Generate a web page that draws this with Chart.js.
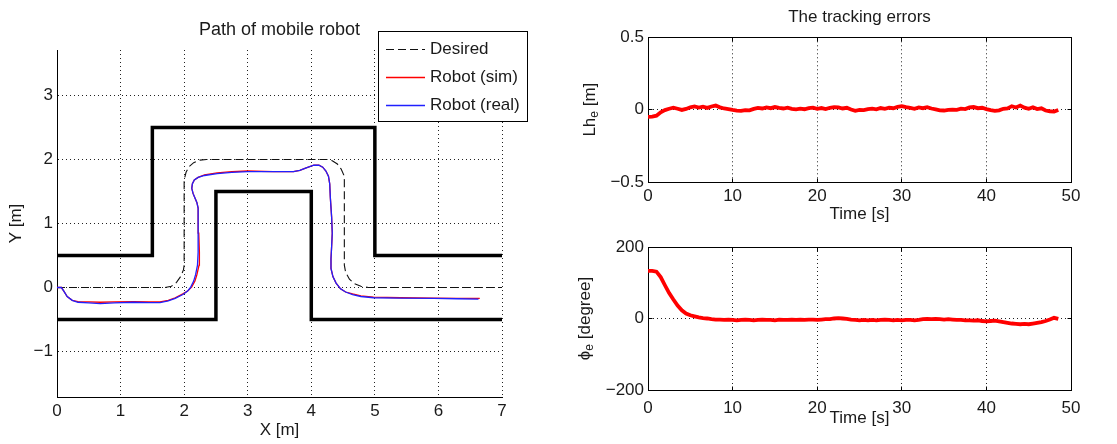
<!DOCTYPE html>
<html><head><meta charset="utf-8">
<script src="https://cdn.jsdelivr.net/npm/chart.js@4.4.0/dist/chart.umd.min.js"></script>
<style>
html,body{margin:0;padding:0;background:#fff;width:1117px;height:444px;overflow:hidden}
canvas{position:absolute;display:block}
#c1{left:0;top:0}
#c2{left:560px;top:0}
#c3{left:560px;top:230px}
</style></head><body>
<canvas id="c1" width="530" height="444"></canvas>
<canvas id="c2" width="557" height="230"></canvas>
<canvas id="c3" width="557" height="214"></canvas>
<script>
// ---------- data: path of mobile robot ----------
const pathTitle = 'Path of mobile robot';
const pathXTicks = [0, 1, 2, 3, 4, 5, 6, 7];
const pathYTicks = [-1, 0, 1, 2, 3];
const legendOrder = ['Desired', 'Robot (sim)', 'Robot (real)'];

const wallUpperX = [0, 1.5, 1.5, 5, 5, 7];
const wallUpperY = [0.5, 0.5, 2.5, 2.5, 0.5, 0.5];
const wallLowerX = [0, 2.5, 2.5, 4, 4, 7];
const wallLowerY = [-0.5, -0.5, 1.5, 1.5, -0.5, -0.5];

const desiredX = [0, 1.7, 1.8, 1.88, 1.95, 1.99, 2.0, 2.0, 2.03, 2.08, 2.15, 2.25, 2.35, 4.25, 4.33, 4.41, 4.47, 4.51, 4.52, 4.52, 4.54, 4.6, 4.68, 4.78, 4.9, 7];
const desiredY = [0, 0, 0.02, 0.08, 0.18, 0.28, 0.35, 1.68, 1.8, 1.89, 1.95, 1.99, 2.0, 2.0, 1.98, 1.93, 1.85, 1.76, 1.68, 0.35, 0.24, 0.13, 0.06, 0.02, 0, 0];

const realX = [0, 0.07, 0.11, 0.16, 0.24, 0.33, 0.5, 0.68, 0.9, 1.2, 1.45, 1.62, 1.75, 1.86, 1.98, 2.05, 2.1, 2.15, 2.18, 2.21, 2.22, 2.22, 2.22, 2.2, 2.17, 2.14, 2.12, 2.13, 2.16, 2.22, 2.32, 2.52, 2.75, 3.0, 3.4, 3.72, 3.82, 3.92, 4.04, 4.12, 4.18, 4.23, 4.27, 4.29, 4.3, 4.32, 4.33, 4.32, 4.31, 4.31, 4.34, 4.39, 4.46, 4.54, 4.65, 4.78, 4.98, 5.4, 5.93, 6.3, 6.63];
const realY = [0, 0, -0.06, -0.14, -0.2, -0.23, -0.24, -0.25, -0.24, -0.23, -0.235, -0.235, -0.21, -0.17, -0.11, -0.06, 0.0, 0.1, 0.2, 0.35, 0.55, 0.85, 1.24, 1.33, 1.4, 1.47, 1.55, 1.62, 1.68, 1.72, 1.75, 1.78, 1.8, 1.81, 1.81, 1.81, 1.83, 1.87, 1.91, 1.91, 1.88, 1.82, 1.74, 1.62, 1.4, 1.1, 0.85, 0.64, 0.45, 0.3, 0.17, 0.07, -0.02, -0.07, -0.11, -0.14, -0.16, -0.165, -0.17, -0.175, -0.18];

const simX = [0, 0.07, 0.11, 0.16, 0.24, 0.33, 0.5, 0.68, 0.9, 1.2, 1.45, 1.62, 1.75, 1.86, 1.98, 2.06, 2.12, 2.17, 2.2, 2.235, 2.24, 2.23, 2.22, 2.2, 2.17, 2.14, 2.12, 2.13, 2.16, 2.22, 2.32, 2.52, 2.75, 3.0, 3.4, 3.72, 3.82, 3.92, 4.04, 4.12, 4.18, 4.23, 4.27, 4.29, 4.3, 4.32, 4.33, 4.32, 4.31, 4.31, 4.34, 4.39, 4.46, 4.54, 4.65, 4.78, 4.98, 5.4, 5.93, 6.3, 6.65];
const simY = [0, 0, -0.06, -0.14, -0.2, -0.22, -0.225, -0.23, -0.225, -0.22, -0.225, -0.225, -0.2, -0.16, -0.1, -0.05, 0.01, 0.1, 0.2, 0.35, 0.55, 0.85, 1.24, 1.33, 1.4, 1.47, 1.55, 1.62, 1.68, 1.72, 1.76, 1.79, 1.81, 1.82, 1.81, 1.81, 1.83, 1.87, 1.91, 1.91, 1.88, 1.82, 1.74, 1.62, 1.4, 1.1, 0.85, 0.64, 0.45, 0.3, 0.17, 0.07, -0.02, -0.07, -0.1, -0.13, -0.15, -0.16, -0.165, -0.17, -0.17];

// ---------- data: tracking errors ----------
const errTitle = 'The tracking errors';
const timeTicks = [0, 10, 20, 30, 40, 50];
const lhTicks = [-0.5, 0, 0.5];
const phiTicks = [-200, 0, 200];
const timeS = [0, 0.5, 1, 1.5, 2, 2.5, 3, 3.5, 4, 4.5, 5, 5.5, 6, 6.5, 7, 7.5, 8, 8.5, 9, 9.5,
  10, 10.5, 11, 11.5, 12, 12.5, 13, 13.5, 14, 14.5, 15, 15.5, 16, 16.5, 17, 17.5, 18, 18.5, 19, 19.5,
  20, 20.5, 21, 21.5, 22, 22.5, 23, 23.5, 24, 24.5, 25, 25.5, 26, 26.5, 27, 27.5, 28, 28.5, 29, 29.5,
  30, 30.5, 31, 31.5, 32, 32.5, 33, 33.5, 34, 34.5, 35, 35.5, 36, 36.5, 37, 37.5, 38, 38.5, 39, 39.5,
  40, 40.5, 41, 41.5, 42, 42.5, 43, 43.5, 44, 44.5, 45, 45.5, 46, 46.5, 47, 47.5, 48, 48.5];
const lhErr = [-0.05, -0.048, -0.042, -0.018, -0.003, 0.006, 0.014, 0.006, -0.002, 0.005, 0.016, 0.022, 0.014, 0.02, 0.012, 0.022, 0.028, 0.016, 0.008, 0.004,
  -0.002, -0.006, -0.009, -0.003, -0.005, 0.005, 0.012, 0.008, 0.016, 0.01, 0.018, 0.012, 0.008, 0.014, 0.006, 0.002, 0.007, 0.003, 0.011, 0.014,
  0.006, 0.011, 0.004, 0.013, 0.018, 0.015, 0.008, 0.013, 0.001, -0.008, -0.002, -0.003, 0.004, 0.007, 0.002, 0.011, 0.006, 0.013, 0.01, 0.019,
  0.024, 0.017, 0.012, 0.006, 0.015, 0.01, 0.017, 0.008, 0.002, -0.005, -0.006, -0.002, 0.0, -0.001, 0.007, 0.004, 0.015, 0.018, 0.01, 0.013,
  0.004, -0.003, -0.008, -0.005, 0.006, 0.009, 0.024, 0.015, 0.028, 0.014, 0.006, 0.017, 0.004, 0.009, -0.006, -0.011, -0.013, -0.002];
const phiErr = [133, 133, 131, 116, 93, 71, 53, 36, 23, 14, 9, 6, 3, 1, 0, -2, -3, -3, -4, -3,
  -4, -5, -4, -3, -4, -5, -4, -3, -4, -4, -5, -3, -4, -4, -3, -4, -3, -4, -3, -3,
  -4, -3, -2, -2, 0, 1, 0, -1, -3, -4, -5, -4, -5, -4, -5, -4, -3, -4, -5, -4,
  -5, -4, -4, -5, -4, -2, -1, -2, -1, -2, -3, -2, -3, -4, -4, -5, -5, -6, -5, -7,
  -8, -7, -6, -8, -10, -12, -14, -15, -16, -15, -16, -14, -12, -10, -7, -3, 2, -1];

const lhLabelParts = [{t: 'Lh'}, {t: 'e', sub: true}, {t: ' [m]'}];
const phiLabelParts = [{t: '\u03D5'}, {t: 'e', sub: true}, {t: ' [degree]'}];

// ---------- helpers ----------
const FONT = "'Liberation Sans', Arial, Helvetica, sans-serif";
const TXT = '#1a1a1a';
Chart.defaults.font.family = FONT;
Chart.defaults.font.size = 17;
Chart.defaults.color = TXT;

const pts = (xs, ys) => xs.map((x, i) => ({x: x, y: ys[i]}));
const fmt = v => String(v).replace('-', '\u2212');
const setTicks = arr => (s => { s.ticks = arr.map(v => ({value: v})); });
const align = p => Math.round(p - 0.5) + 0.5;

const framePlugin = {
  id: 'frame',
  afterDraw(chart, args, o) {
    if (!o || !o.show) return;
    const ctx = chart.ctx, a = chart.chartArea;
    const L = align(a.left), R = align(a.right), T = align(a.top), B = align(a.bottom);
    ctx.save();
    ctx.strokeStyle = '#000'; ctx.lineWidth = 1;
    ctx.beginPath();
    ctx.moveTo(L, T); ctx.lineTo(R, T); ctx.lineTo(R, B);
    const tl = o.tick || 4;
    chart.scales.x.ticks.forEach(t => {
      const px = align(chart.scales.x.getPixelForValue(t.value));
      ctx.moveTo(px, B); ctx.lineTo(px, B - tl);
      ctx.moveTo(px, T); ctx.lineTo(px, T + tl);
    });
    chart.scales.y.ticks.forEach(t => {
      const py = align(chart.scales.y.getPixelForValue(t.value));
      ctx.moveTo(L, py); ctx.lineTo(L + tl, py);
      ctx.moveTo(R, py); ctx.lineTo(R - tl, py);
    });
    ctx.stroke();
    ctx.restore();
  }
};

const ySubPlugin = {
  id: 'ySub',
  afterDraw(chart, args, o) {
    if (!o || !o.parts) return;
    const ctx = chart.ctx, a = chart.chartArea;
    ctx.save();
    ctx.translate(o.x, (a.top + a.bottom) / 2);
    ctx.rotate(-Math.PI / 2);
    ctx.fillStyle = TXT;
    ctx.textBaseline = 'middle';
    ctx.textAlign = 'left';
    const fontOf = p => (p.sub ? 12 : 17) + 'px ' + FONT;
    let total = 0;
    const ws = o.parts.map(p => { ctx.font = fontOf(p); const w = ctx.measureText(p.t).width; total += w; return w; });
    let cx = -total / 2;
    o.parts.forEach((p, i) => { ctx.font = fontOf(p); ctx.fillText(p.t, cx, p.sub ? 5 : 0); cx += ws[i]; });
    ctx.restore();
  }
};

const boxLegendPlugin = {
  id: 'boxLegend',
  afterDraw(chart, args, o) {
    if (!o || !o.order) return;
    const ctx = chart.ctx;
    ctx.save();
    ctx.fillStyle = '#fff';
    ctx.fillRect(o.x, o.y, o.w, o.h);
    ctx.strokeStyle = '#000'; ctx.lineWidth = 1;
    ctx.strokeRect(o.x + 0.5, o.y + 0.5, o.w, o.h);
    o.order.forEach((lab, i) => {
      const ds = chart.data.datasets.find(d => d.label === lab);
      if (!ds) return;
      const yy = Math.round(o.y + o.first + i * o.step) + 0.5;
      ctx.strokeStyle = ds.borderColor;
      ctx.lineWidth = ds.borderWidth;
      ctx.setLineDash(ds.borderDash || []);
      ctx.beginPath(); ctx.moveTo(o.x + 8, yy); ctx.lineTo(o.x + 47, yy); ctx.stroke();
      ctx.setLineDash([]);
      ctx.fillStyle = TXT;
      ctx.font = '17px ' + FONT;
      ctx.textBaseline = 'middle';
      ctx.textAlign = 'left';
      ctx.fillText(lab, o.x + 52, yy);
    });
    ctx.restore();
  }
};

Chart.register(framePlugin, ySubPlugin, boxLegendPlugin);

const gridOpts = {color: '#222', lineWidth: 1, drawTicks: false};
const borderOpts = {color: '#000', width: 1, dash: [1, 3]};
const common = {
  responsive: false, animation: false, events: [],
  elements: {point: {radius: 0}, line: {tension: 0, borderCapStyle: 'butt', borderJoinStyle: 'miter'}},
};

// ---------- chart 1: path ----------
new Chart(document.getElementById('c1'), {
  type: 'line',
  data: {datasets: [
    {label: 'Robot (real)', data: pts(realX, realY), borderColor: '#2020ff', borderWidth: 1.3, order: 1},
    {label: 'Robot (sim)', data: pts(simX, simY), borderColor: '#ff0000', borderWidth: 1.3, order: 2},
    {label: 'Desired', data: pts(desiredX, desiredY), borderColor: '#111', borderWidth: 1.1, borderDash: [8, 4], order: 3},
    {label: '', data: pts(wallUpperX, wallUpperY), borderColor: '#000', borderWidth: 3.5, order: 4},
    {label: '', data: pts(wallLowerX, wallLowerY), borderColor: '#000', borderWidth: 3.5, order: 5}
  ]},
  options: Object.assign({}, common, {
    layout: {padding: {left: 0, right: 28, top: 0, bottom: 0}},
    plugins: {
      legend: {display: false}, tooltip: {enabled: false},
      title: {display: true, text: pathTitle, fullSize: false, color: TXT, font: {size: 18, weight: 'normal'}, padding: {top: 19.2, bottom: 9.2}},
      boxLegend: {order: legendOrder, x: 378, y: 31, w: 149, h: 90, first: 17.5, step: 28.3}
    },
    scales: {
      x: {type: 'linear', min: 0, max: 7, afterBuildTicks: setTicks(pathXTicks),
          ticks: {padding: 4, callback: fmt}, grid: gridOpts, border: borderOpts,
          title: {display: true, text: 'X [m]', padding: {top: 0, bottom: 3}},
          afterFit(s) { s.height = 47; }},
      y: {type: 'linear', min: -1.71, max: 3.71, afterBuildTicks: setTicks(pathYTicks),
          ticks: {padding: 4, callback: fmt}, grid: gridOpts, border: borderOpts,
          title: {display: true, text: 'Y [m]', padding: {top: 6.5, bottom: 0}},
          afterFit(s) { s.width = 57; }}
    }
  })
});

// ---------- chart 2: Lh_e ----------
new Chart(document.getElementById('c2'), {
  type: 'line',
  data: {datasets: [{label: 'Lh_e', data: pts(timeS, lhErr), borderColor: '#ff0000', borderWidth: 3.8}]},
  options: Object.assign({}, common, {
    layout: {padding: {left: 0, right: 46, top: 0, bottom: 0}},
    plugins: {
      legend: {display: false}, tooltip: {enabled: false},
      title: {display: true, text: errTitle, fullSize: false, color: TXT, font: {size: 17, weight: 'normal'}, padding: {top: 7.3, bottom: 9.6}},
      frame: {show: true, tick: 4},
      ySub: {x: 30, parts: lhLabelParts}
    },
    scales: {
      x: {type: 'linear', min: 0, max: 50, afterBuildTicks: setTicks(timeTicks),
          ticks: {padding: 4, callback: fmt}, grid: gridOpts, border: borderOpts,
          title: {display: true, text: 'Time [s]', padding: {top: 0, bottom: 5.5}},
          afterFit(s) { s.height = 48; }},
      y: {type: 'linear', min: -0.5, max: 0.5, afterBuildTicks: setTicks(lhTicks),
          ticks: {padding: 4, callback: fmt}, grid: gridOpts, border: borderOpts,
          afterFit(s) { s.width = 88; }}
    }
  })
});

// ---------- chart 3: phi_e ----------
new Chart(document.getElementById('c3'), {
  type: 'line',
  data: {datasets: [{label: 'phi_e', data: pts(timeS, phiErr), borderColor: '#ff0000', borderWidth: 3.8}]},
  options: Object.assign({}, common, {
    layout: {padding: {left: 0, right: 46, top: 17, bottom: 0}},
    plugins: {
      legend: {display: false}, tooltip: {enabled: false},
      frame: {show: true, tick: 4},
      ySub: {x: 25, parts: phiLabelParts}
    },
    scales: {
      x: {type: 'linear', min: 0, max: 50, afterBuildTicks: setTicks(timeTicks),
          ticks: {padding: 8, callback: fmt}, grid: gridOpts, border: borderOpts,
          title: {display: true, text: 'Time [s]', padding: {top: 0, bottom: 15.5}},
          afterFit(s) { s.height = 54; }},
      y: {type: 'linear', min: -200, max: 200, afterBuildTicks: setTicks(phiTicks),
          ticks: {padding: 4, callback: fmt}, grid: gridOpts, border: borderOpts,
          afterFit(s) { s.width = 88; }}
    }
  })
});
</script>
</body></html>
